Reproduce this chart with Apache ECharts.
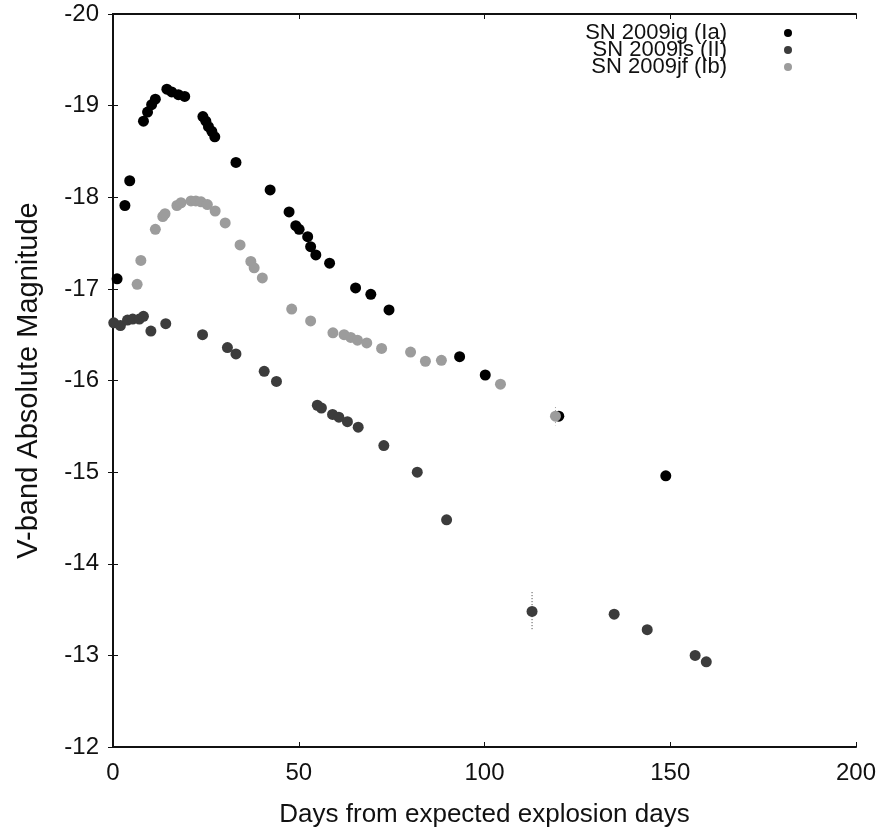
<!DOCTYPE html>
<html>
<head>
<meta charset="utf-8">
<script src="https://cdn.jsdelivr.net/npm/echarts@6/dist/echarts.min.js"></script>
<style>html,body{margin:0;padding:0;background:#fff}#c{width:886px;height:833px}</style>
</head>
<body>
<div id="c"></div>
<script>
var seriesNames = ['SN 2009ig (Ia)', 'SN 2009ls (II)', 'SN 2009jf (Ib)'];
var xTicks = [0, 50, 100, 150, 200];
var yTicks = [-20, -19, -18, -17, -16, -15, -14, -13, -12];

var iaDays = [1.1, 3.2, 4.5, 8.2, 9.3, 10.4, 11.4, 14.5, 15.8, 17.6, 19.3, 24.2, 25.0, 25.7, 26.6, 27.4, 33.1, 42.3, 47.4, 49.2, 50.1, 52.4, 53.2, 54.6, 58.3, 65.3, 69.4, 74.3, 93.3, 100.2, 120.0, 148.8];
var iaMag = [-17.11, -17.91, -18.18, -18.83, -18.93, -19.01, -19.07, -19.18, -19.15, -19.12, -19.10, -18.88, -18.83, -18.77, -18.72, -18.66, -18.38, -18.08, -17.84, -17.69, -17.65, -17.57, -17.46, -17.37, -17.28, -17.01, -16.94, -16.77, -16.26, -16.06, -15.61, -14.96];

var iiDays = [0.2, 2.0, 3.9, 5.3, 7.1, 8.2, 10.2, 14.2, 24.1, 30.8, 33.1, 40.7, 44.0, 55.0, 56.1, 59.1, 60.8, 63.1, 66.0, 72.9, 81.9, 89.8, 112.8, 134.9, 143.8, 156.7, 159.7];
var iiMag = [-16.63, -16.60, -16.66, -16.67, -16.67, -16.70, -16.54, -16.62, -16.50, -16.36, -16.29, -16.10, -15.99, -15.73, -15.70, -15.63, -15.60, -15.55, -15.49, -15.29, -15.00, -14.48, -13.48, -13.45, -13.28, -13.00, -12.93];
var iiErr = [0, 0, 0, 0, 0, 0, 0, 0, 0, 0, 0, 0, 0, 0, 0, 0, 0, 0, 0, 0, 0, 0, 0.21, 0, 0, 0, 0];

var ibDays = [6.5, 7.5, 11.4, 13.4, 14.0, 17.2, 18.3, 21.0, 22.3, 23.7, 25.4, 27.5, 30.2, 34.2, 37.1, 38.0, 40.2, 48.1, 53.2, 59.2, 62.2, 64.0, 65.8, 68.3, 72.3, 80.1, 84.1, 88.4, 104.3, 119.1];
var ibMag = [-17.05, -17.31, -17.65, -17.79, -17.82, -17.91, -17.94, -17.96, -17.96, -17.95, -17.92, -17.85, -17.72, -17.48, -17.30, -17.23, -17.12, -16.78, -16.65, -16.52, -16.50, -16.47, -16.44, -16.41, -16.35, -16.31, -16.21, -16.22, -15.96, -15.61];
var ibErr = [0, 0, 0, 0, 0, 0, 0, 0, 0, 0, 0, 0, 0, 0, 0, 0, 0, 0, 0, 0, 0, 0, 0, 0, 0, 0, 0, 0, 0, 0.1];

var colors = ['#000000', '#3c3c3c', '#9c9c9c'];

function pairs(xs, ys) { return xs.map(function (x, i) { return [x, ys[i]]; }); }
function errData(xs, ys, es) {
  var out = [];
  xs.forEach(function (x, i) { if (es[i] > 0) out.push([x, ys[i] - es[i], ys[i] + es[i]]); });
  return out;
}
function errSeries(data, color) {
  return {
    type: 'custom', data: data, silent: true, z: 1,
    renderItem: function (params, api) {
      var a = api.coord([api.value(0), api.value(1)]);
      var b = api.coord([api.value(0), api.value(2)]);
      return { type: 'line', shape: { x1: a[0], y1: a[1], x2: b[0], y2: b[1] }, style: { stroke: color, lineWidth: 1, lineDash: [1, 2] } };
    }
  };
}

var font = 'Liberation Sans, Arial, Helvetica, sans-serif';
var chart = echarts.init(document.getElementById('c'));
var axisLineStyle = { color: '#111', width: 2 };
chart.setOption({
  backgroundColor: '#fff',
  animation: false,
  textStyle: { fontFamily: font },
  grid: { left: 113, right: 30, top: 14, bottom: 84, show: false },
  legend: {
    orient: 'vertical', align: 'right', right: 89, top: 17,
    itemWidth: 8, itemHeight: 8, itemGap: -5,
    icon: 'circle',
    data: seriesNames,
    textStyle: { fontSize: 22, color: '#111', fontFamily: font, padding: [0, 52, 0, 0] }
  },
  xAxis: [{
    type: 'value', min: xTicks[0], max: xTicks[xTicks.length - 1], interval: 50,
    name: 'Days from expected explosion days', nameLocation: 'middle', nameGap: 55,
    nameTextStyle: { fontSize: 26, color: '#111', fontFamily: font },
    axisLine: { show: true, lineStyle: axisLineStyle },
    axisTick: { show: true, inside: true, length: 5, lineStyle: { color: '#111' } },
    axisLabel: { fontSize: 24, color: '#111', margin: 14, fontFamily: font },
    splitLine: { show: false }
  }, {
    type: 'value', min: xTicks[0], max: xTicks[xTicks.length - 1], interval: 50, position: 'top',
    axisLine: { show: true, lineStyle: axisLineStyle },
    axisTick: { show: true, inside: true, length: 5, lineStyle: { color: '#111' } },
    axisLabel: { show: false }, splitLine: { show: false }
  }],
  yAxis: [{
    type: 'value', inverse: true, min: yTicks[0], max: yTicks[yTicks.length - 1], interval: 1,
    name: 'V-band Absolute Magnitude', nameLocation: 'middle', nameGap: 70,
    nameTextStyle: { fontSize: 29, color: '#111', fontFamily: font },
    axisLine: { show: true, lineStyle: axisLineStyle },
    axisTick: { show: true, inside: true, length: 5, lineStyle: { color: '#111' } },
    axisLabel: { fontSize: 24, color: '#111', margin: 14, fontFamily: font },
    splitLine: { show: false }
  }, {
    type: 'value', inverse: true, min: yTicks[0], max: yTicks[yTicks.length - 1], interval: 1, position: 'right',
    axisLine: { show: true, lineStyle: axisLineStyle },
    axisTick: { show: true, inside: true, length: 5, lineStyle: { color: '#111' } },
    axisLabel: { show: false }, splitLine: { show: false }
  }],
  series: [
    { name: seriesNames[0], type: 'scatter', data: pairs(iaDays, iaMag), symbolSize: 11, itemStyle: { color: colors[0], opacity: 1 }, z: 2 },
    { name: seriesNames[1], type: 'scatter', data: pairs(iiDays, iiMag), symbolSize: 11, itemStyle: { color: colors[1], opacity: 1 }, z: 3 },
    errSeries(errData(iiDays, iiMag, iiErr), colors[1]),
    { name: seriesNames[2], type: 'scatter', data: pairs(ibDays, ibMag), symbolSize: 11, itemStyle: { color: colors[2], opacity: 1 }, z: 4 },
    errSeries(errData(ibDays, ibMag, ibErr), colors[2])
  ]
});
</script>
</body>
</html>
